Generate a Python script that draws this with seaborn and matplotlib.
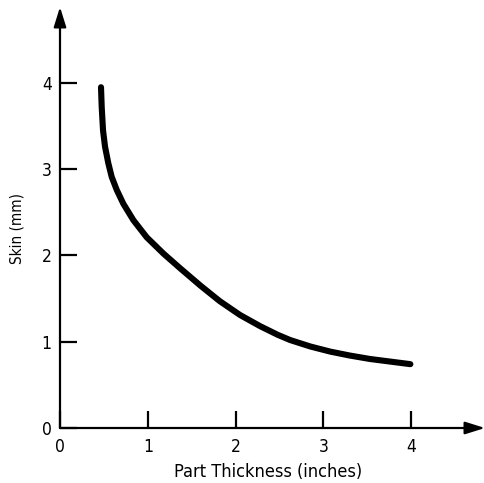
import matplotlib
matplotlib.use("Agg")
import matplotlib.pyplot as plt
import seaborn as sns
import pandas as pd

# Skin depth versus part thickness
thickness_in = [0.467, 0.475, 0.49, 0.513, 0.55, 0.589, 0.646, 0.721, 0.835,
                0.988, 1.18, 1.37, 1.60, 1.82, 2.05, 2.28, 2.48, 2.62, 2.85,
                3.08, 3.30, 3.53, 3.76, 3.99]
skin_mm = [3.95, 3.72, 3.45, 3.26, 3.07, 2.91, 2.76, 2.60, 2.41,
           2.21, 2.02, 1.85, 1.65, 1.47, 1.31, 1.18, 1.08, 1.02, 0.945,
           0.885, 0.84, 0.80, 0.77, 0.74]

x_ticks = [0, 1, 2, 3, 4]
y_ticks = [0, 1, 2, 3, 4]
x_label = "Part Thickness (inches)"
y_label = "Skin (mm)"

sns.set_theme(style="white")
plt.rcParams["font.family"] = ["DejaVu Sans"]
plt.rcParams["font.stretch"] = "condensed"

df = pd.DataFrame({"thickness": thickness_in, "skin": skin_mm})

fig = plt.figure(figsize=(4.85, 4.83), dpi=100)
ax = fig.add_axes([60 / 485, 55 / 483, 425 / 485, 421 / 483])

sns.lineplot(data=df, x="thickness", y="skin", ax=ax, color="black",
             linewidth=4.4, sort=False, solid_capstyle="round",
             solid_joinstyle="round")

ax.set_xlim(0, 4.84)
ax.set_ylim(0, 4.88)

for s in ax.spines.values():
    s.set_visible(False)

# axis lines with arrow heads
arrow = dict(arrowstyle="-|>,head_length=0.8,head_width=0.25",
             color="black", lw=1.6, mutation_scale=15, shrinkA=0, shrinkB=0)
ax.annotate("", xy=(1, 0), xytext=(0, 0), xycoords="axes fraction",
            arrowprops=arrow, annotation_clip=False)
ax.annotate("", xy=(0, 1), xytext=(0, 0), xycoords="axes fraction",
            arrowprops=arrow, annotation_clip=False)

ax.set_xticks(x_ticks)
ax.set_yticks(y_ticks)
ax.set_xticklabels([str(v) for v in x_ticks])
ax.set_yticklabels([str(v) for v in y_ticks])
ax.tick_params(axis="both", direction="in", length=12, width=1.6,
               color="black", labelsize=12.5, labelcolor="black")
ax.tick_params(axis="x", pad=7.5, bottom=True, left=False)
ax.tick_params(axis="y", pad=6, left=True, bottom=False)

ax.set_xlabel(x_label, fontsize=13, color="black")
ax.set_ylabel(y_label, fontsize=11, color="black")
ax.xaxis.set_label_coords(0.49, -0.082)
ax.yaxis.set_label_coords(-0.083, 0.473)

fig.savefig("out.png", dpi=100)
